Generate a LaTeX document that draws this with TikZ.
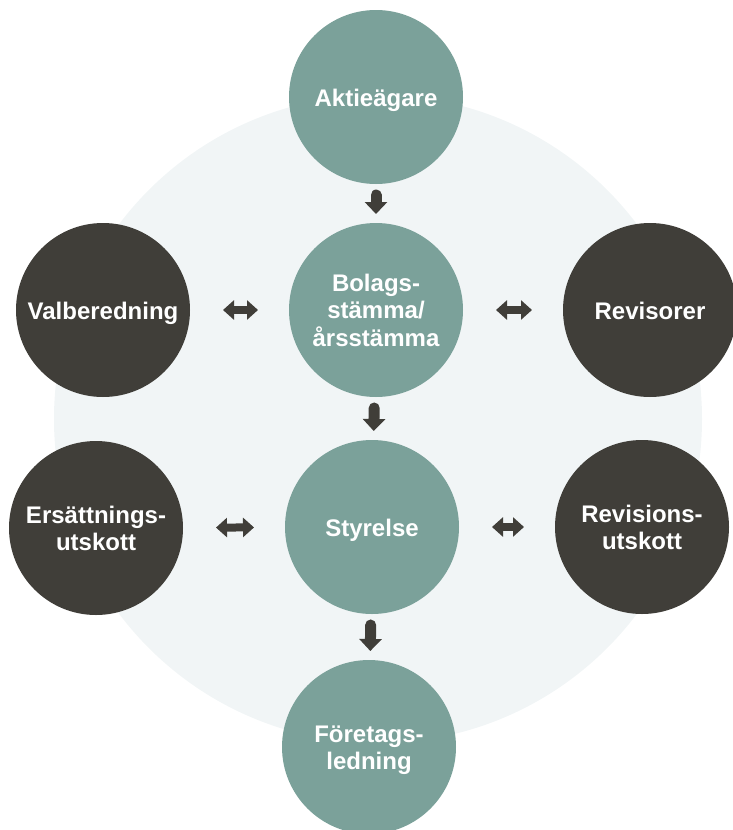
\documentclass[tikz,border=0pt]{standalone}
\usepackage{fontspec}
\setmainfont{Liberation Sans}
\usetikzlibrary{arrows.meta}
\definecolor{sage}{HTML}{7BA19A}
\definecolor{charcoal}{HTML}{403E39}
\definecolor{pale}{HTML}{F1F5F6}
\newcommand{\blobtext}[1]{\raisebox{0pt}[\dimexpr\height+8pt\relax][\depth]{\begin{tabular}{@{}c@{}}#1\end{tabular}}}
\tikzset{
	blob/.style={circle, minimum size=174pt, inner sep=0pt, outer sep=0pt, text=white, font=\bfseries\fontsize{24}{27}\selectfont},
	downarrow/.style={charcoal, line width=11pt, line cap=round, -{Triangle[width=22pt,length=12pt]}, shorten <=11pt, shorten >=9pt},
	bothways/.style={charcoal, line width=8pt, {Triangle[width=19pt,length=11pt]}-{Triangle[width=19pt,length=11pt]}, shorten <=33pt, shorten >=31pt}
}
\begin{document}
\begin{tikzpicture}[x=1pt,y=-1pt]
			\useasboundingbox (0,0) rectangle (733,830);
			\fill[pale] (378,419) circle (324pt);
			\foreach \n/\x/\y/\t in {akt/376/97/{Aktieägare}, bol/376/310/{Bolags-\\stämma/\\årsstämma}, sty/372/527/{Styrelse}, for/369/747/{Företags-\\ledning}} {
				\node[blob, fill=sage] (\n) at (\x,\y) {\blobtext{\t}};
			}
			\foreach \n/\x/\y/\t in {val/103/310/{Valberedning}, rev/650/310/{Revisorer}, ers/96/528/{Ersättnings-\\utskott}, rvu/642/527/{Revisions-\\utskott}} {
				\node[blob, fill=charcoal] (\n) at (\x,\y) {\blobtext{\t}};
			}
			\foreach \a/\b in {akt/bol, bol/sty, sty/for} {
				\draw[downarrow] (\a) -- (\b);
			}
			\foreach \a/\b in {val/bol, bol/rev, ers/sty, sty/rvu} {
				\draw[bothways] (\a) -- (\b);
			}
		\end{tikzpicture}
\end{document}
